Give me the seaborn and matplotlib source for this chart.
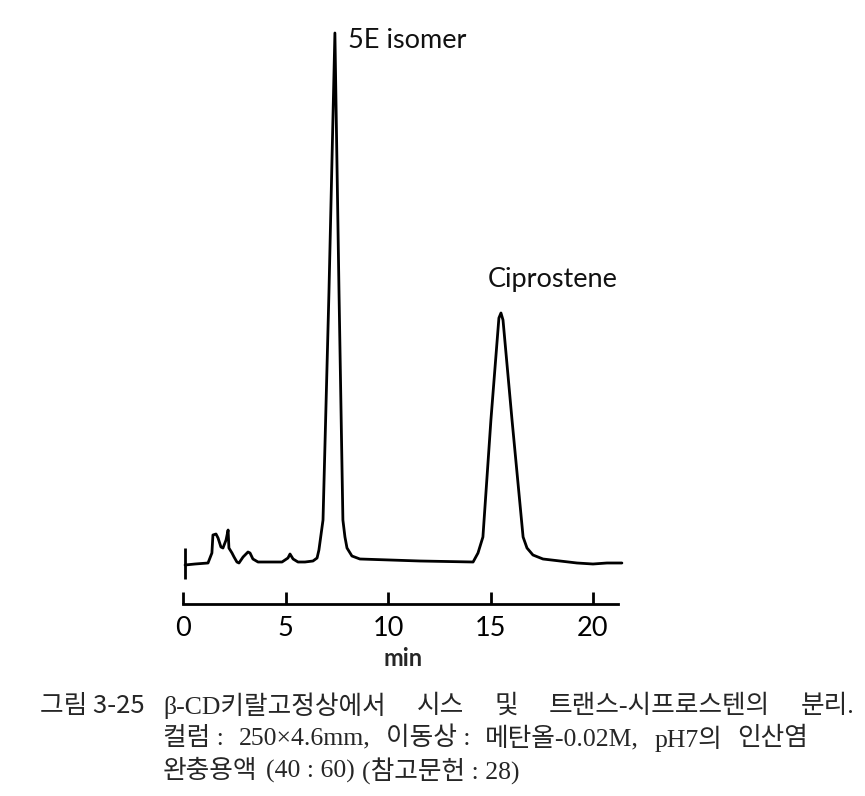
import matplotlib
matplotlib.use("Agg")
import matplotlib.pyplot as plt
import seaborn as sns
import pandas as pd

# chromatogram trace (time in min, detector signal in arbitrary units)
time_min = [0.10, 0.59, 1.22, 1.41, 1.46, 1.61, 1.71, 1.85, 1.95, 2.10, 2.20, 2.24,
            2.39, 2.49, 2.63, 2.73, 2.93, 3.17, 3.27, 3.41, 3.66, 4.15, 4.83, 5.12,
            5.22, 5.37, 5.61, 5.95, 6.34, 6.54, 6.63, 6.83, 7.12, 7.41, 7.61, 7.80,
            7.90, 8.00, 8.24, 8.63, 11.56, 14.15, 14.39, 14.63, 15.02, 15.41, 15.51,
            15.61, 16.05, 16.59, 16.78, 17.07, 17.56, 18.39, 19.22, 20.00, 20.68, 21.41]
signal = [5, 6, 7, 17, 35, 36, 32, 23, 22, 30, 40, 22,
          17, 13, 8, 7, 13, 18, 17, 11, 8, 8, 8, 12,
          16, 11, 8, 8, 9, 12, 20, 50, 278, 537, 278, 50,
          33, 22, 14, 11, 9, 8, 17, 33, 150, 252, 257,
          250, 150, 33, 22, 15, 11, 9, 7, 6, 7, 7]

# injection mark
inject_time = 0.10
inject_low, inject_high = -9, 22

peak_names = ["5E isomer", "Ciprostene"]
peak_label_t = [8.05, 14.88]
peak_label_s = [530, 291]

x_ticks = [0, 5, 10, 15, 20]
x_label = "min"

caption_head = "그림 3-25"
caption_lines = [
    ["β-CD키랄고정상에서", "시스", "및", "트랜스-시프로스텐의", "분리."],
    ["컬럼 :", "250×4.6mm,", "이동상 :", "메탄올-0.02M,", "pH7의", "인산염"],
    ["완충용액", "(40 : 60)", "(참고문헌 : 28)"],
]
caption_right = [855, 808, None]   # justified lines end here (pixels)

df = pd.DataFrame({"t": time_min, "s": signal})

sns.set_style("white")
plt.rcParams['font.family'] = ['Lato', 'DejaVu Sans']

fig = plt.figure(figsize=(8.65, 7.96), dpi=100)
W, H = 865, 796
ax = fig.add_axes([183 / W, 1 - 604 / H, 21.5 * 20.5 / W, (604 - 30) / H])

sns.lineplot(data=df, x="t", y="s", color="black", linewidth=2.0, ax=ax,
             estimator=None, sort=False)
ax.vlines(inject_time, inject_low, inject_high, color="black", linewidth=2.0)

ax.set_xlim(0, 21.5)
ax.set_ylim(-34, 540)

for name, t, s in zip(peak_names, peak_label_t, peak_label_s):
    ax.text(t, s, name, fontsize=19.5, va="center", ha="left", color="#111111")

for side in ["left", "top", "right"]:
    ax.spines[side].set_visible(False)
ax.spines["bottom"].set_color("black")
ax.spines["bottom"].set_linewidth(2.0)
ax.spines["bottom"].set_bounds(0, 21.2)
ax.set_yticks([])
ax.set_xticks(x_ticks)
ax.set_xticklabels([str(v) for v in x_ticks])
ax.tick_params(axis="x", direction="in", length=9, width=2.0, pad=9,
               labelsize=19.5, colors="black", bottom=True)
ax.set_xlabel(x_label, fontsize=17, fontweight="bold", labelpad=4)
ax.set_ylabel("")

# caption, justified like the printed figure
cap_font = ['Liberation Serif', 'Noto Sans CJK KR']
cap_size = 18.5
fig.text(40 / W, 1 - 706 / H, caption_head, fontsize=cap_size, va="center",
         family=['Noto Sans CJK KR', 'DejaVu Sans'])
renderer = fig.canvas.get_renderer()
for i, words in enumerate(caption_lines):
    y = 1 - (706 + 32.5 * i) / H
    texts = [fig.text(0, y, w, fontsize=cap_size, va="center", family=cap_font)
             for w in words]
    widths = [t.get_window_extent(renderer).width for t in texts]
    if caption_right[i] is None:
        gap = 8
    else:
        gap = (caption_right[i] - 163 - sum(widths)) / (len(words) - 1)
    x = 163
    for t, wd in zip(texts, widths):
        t.set_x(x / W)
        x += wd + gap

plt.savefig("out.png", dpi=100)
